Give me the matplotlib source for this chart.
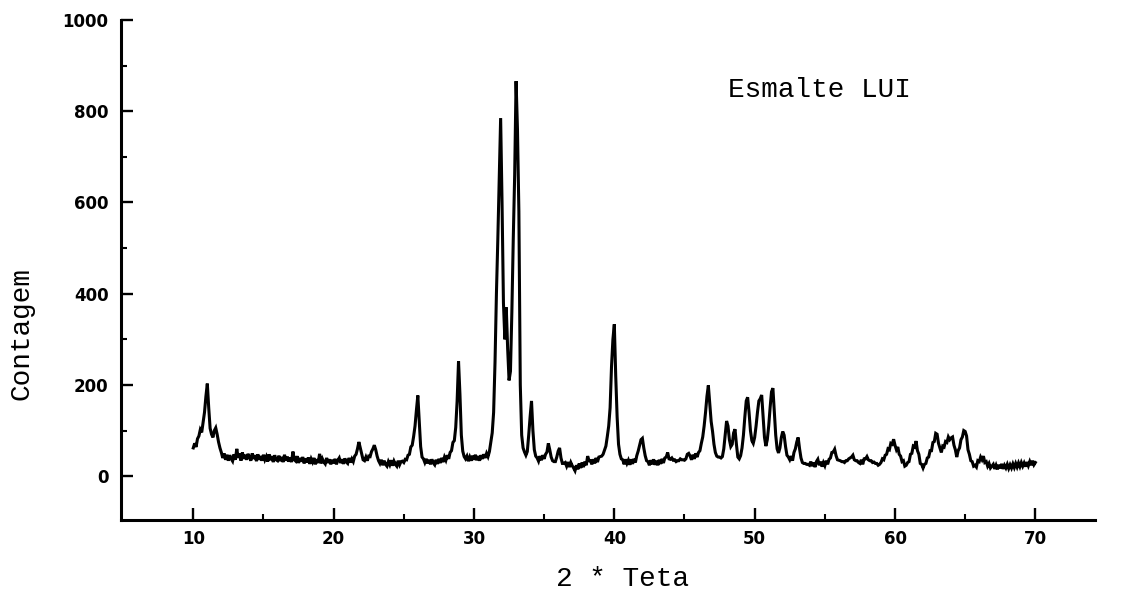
import numpy as np
import matplotlib
matplotlib.use("Agg")
import matplotlib.pyplot as plt
from matplotlib.ticker import FixedLocator, MultipleLocator

# Scan settings: start angle and step (degrees 2-theta)
scan_start = 10.0
scan_step = 0.1

# Counts per 1-degree block (10 readings each), 10.0 .. 69.9, then the final 70.0 reading
counts_10_20 = [
    62, 72, 64, 82, 88, 102, 96, 118, 140, 175,
    203, 150, 105, 92, 85, 100, 106, 92, 75, 62,
    52, 40, 50, 36, 47, 34, 46, 38, 33, 48,
    36, 60, 40, 50, 34, 52, 38, 47, 36, 49,
    42, 34, 50, 38, 46, 33, 48, 36, 44, 34,
    47, 36, 43, 32, 48, 35, 44, 31, 46, 36,
    34, 45, 33, 42, 31, 47, 34, 43, 32, 41,
    31, 54, 36, 33, 44, 29, 40, 32, 42, 28,
    39, 30, 41, 27, 38, 31, 40, 26, 37, 29,
    49, 28, 38, 31, 27, 40, 29, 37, 26, 36,
]
counts_20_30 = [
    28, 38, 26, 35, 40, 29, 37, 27, 39, 31,
    28, 40, 30, 38, 32, 44, 48, 60, 75, 62,
    48, 36, 34, 42, 34, 44, 43, 54, 60, 68,
    58, 44, 34, 28, 36, 24, 34, 26, 22, 32,
    25, 35, 23, 33, 26, 22, 34, 25, 32, 33,
    30, 37, 36, 46, 48, 64, 68, 87, 110, 145,
    177, 120, 65, 42, 38, 30, 38, 28, 36, 26,
    37, 29, 25, 36, 27, 38, 29, 40, 31, 42,
    35, 46, 38, 52, 56, 74, 78, 107, 165, 252,
    180, 90, 55, 43, 38, 44, 33, 42, 34, 45,
]
counts_30_40 = [
    36, 47, 35, 44, 34, 46, 38, 48, 40, 50,
    43, 54, 75, 95, 140, 250, 400, 520, 650, 785,
    600, 380, 300, 370, 280, 210, 230, 360, 520, 660,
    866, 760, 580, 200, 90, 62, 53, 46, 54, 90,
    130, 165, 100, 58, 44, 40, 33, 44, 35, 46,
    38, 48, 53, 72, 58, 42, 34, 32, 32, 42,
    55, 62, 40, 28, 28, 30, 22, 31, 20, 30,
    23, 18, 12, 24, 15, 28, 18, 30, 20, 32,
    24, 44, 34, 34, 26, 37, 28, 40, 31, 42,
    43, 44, 48, 57, 66, 87, 110, 150, 240, 300,
]
counts_40_50 = [
    333, 220, 130, 70, 48, 38, 36, 26, 37, 28,
    35, 25, 37, 27, 38, 30, 45, 55, 68, 80,
    83, 62, 45, 34, 32, 24, 35, 26, 37, 25,
    34, 24, 36, 27, 38, 29, 40, 42, 52, 38,
    37, 40, 35, 36, 32, 34, 34, 38, 36, 36,
    35, 38, 48, 50, 44, 36, 47, 38, 50, 42,
    52, 56, 72, 86, 110, 140, 175, 199, 160, 120,
    98, 70, 52, 44, 42, 42, 40, 43, 60, 90,
    121, 110, 80, 65, 70, 95, 103, 70, 42, 38,
    45, 62, 90, 130, 165, 173, 140, 100, 78, 72,
]
counts_50_60 = [
    85, 110, 140, 165, 170, 178, 130, 85, 66, 80,
    110, 150, 185, 193, 140, 90, 60, 51, 62, 85,
    98, 90, 65, 46, 42, 36, 44, 34, 52, 60,
    75, 85, 60, 40, 30, 28, 28, 26, 26, 24,
    32, 22, 30, 20, 32, 37, 24, 32, 21, 30,
    23, 34, 26, 37, 40, 52, 53, 59, 45, 36,
    35, 34, 32, 32, 30, 34, 34, 38, 40, 42,
    46, 36, 34, 34, 30, 28, 36, 26, 38, 38,
    43, 36, 34, 34, 30, 31, 28, 28, 24, 26,
    30, 38, 36, 46, 48, 60, 58, 72, 70, 81,
]
counts_60_70 = [
    68, 58, 64, 48, 44, 32, 34, 22, 24, 30,
    32, 48, 50, 66, 64, 77, 56, 48, 28, 26,
    18, 26, 28, 40, 42, 56, 56, 74, 76, 94,
    92, 72, 62, 52, 66, 64, 76, 74, 86, 80,
    84, 86, 68, 58, 42, 56, 62, 80, 86, 100,
    98, 88, 58, 48, 34, 32, 22, 24, 20, 34,
    32, 42, 36, 44, 30, 32, 22, 28, 18, 22,
    26, 16, 24, 15, 25, 17, 27, 16, 24, 18,
    26, 17, 25, 18, 27, 19, 28, 20, 29, 21,
    30, 22, 29, 21, 31, 23, 32, 24, 34, 25,
]
counts_end = [30]

x_ticks = [10, 20, 30, 40, 50, 60, 70]
x_minor = [15, 25, 35, 45, 55, 65]
y_ticks = [0, 200, 400, 600, 800, 1000]

x_label = "2 * Teta"
y_label = "Contagem"
sample_name = "Esmalte LUI"

counts = np.array(counts_10_20 + counts_20_30 + counts_30_40 +
                  counts_40_50 + counts_50_60 + counts_60_70 + counts_end, dtype=float)
two_theta = scan_start + scan_step * np.arange(len(counts))

mono = ["Liberation Mono", "DejaVu Sans Mono"]

fig = plt.figure(figsize=(11.29, 6.0), dpi=100)
ax = fig.add_axes([121 / 1129, 80 / 600, (1095 - 121) / 1129, (520 - 20) / 600])

ax.plot(two_theta, counts, color="black", lw=2.2, solid_joinstyle="miter")

ax.set_xlim(4.85, 74.25)
ax.set_ylim(-96, 1000)

for side in ("top", "right"):
    ax.spines[side].set_visible(False)
for side in ("left", "bottom"):
    ax.spines[side].set_linewidth(2.2)
    ax.spines[side].set_color("black")

ax.xaxis.set_major_locator(FixedLocator(x_ticks))
ax.xaxis.set_minor_locator(FixedLocator(x_minor))
ax.yaxis.set_major_locator(FixedLocator(y_ticks))
ax.yaxis.set_minor_locator(MultipleLocator(100))

ax.tick_params(which="major", direction="in", length=8.5, width=1.7, color="black")
ax.tick_params(which="minor", direction="in", length=4.5, width=1.5, color="black")
ax.tick_params(axis="y", which="major", pad=9)
ax.tick_params(axis="x", which="major", pad=7)

for lab in ax.get_xticklabels() + ax.get_yticklabels():
    lab.set_fontfamily("DejaVu Sans")
    lab.set_fontweight("bold")
    lab.set_fontsize(12)

fig.text(622 / 1129, 1 - 579 / 600, x_label, family=mono, fontsize=20,
         ha="center", va="center", color="black")
fig.text(22 / 1129, 1 - 333 / 600, y_label, family=mono, fontsize=20,
         rotation=90, ha="center", va="center", color="black")
ax.text(48.1, 847, sample_name, family=mono, fontsize=20,
        ha="left", va="center", color="black")

fig.savefig("out.png", dpi=100, facecolor="white")
